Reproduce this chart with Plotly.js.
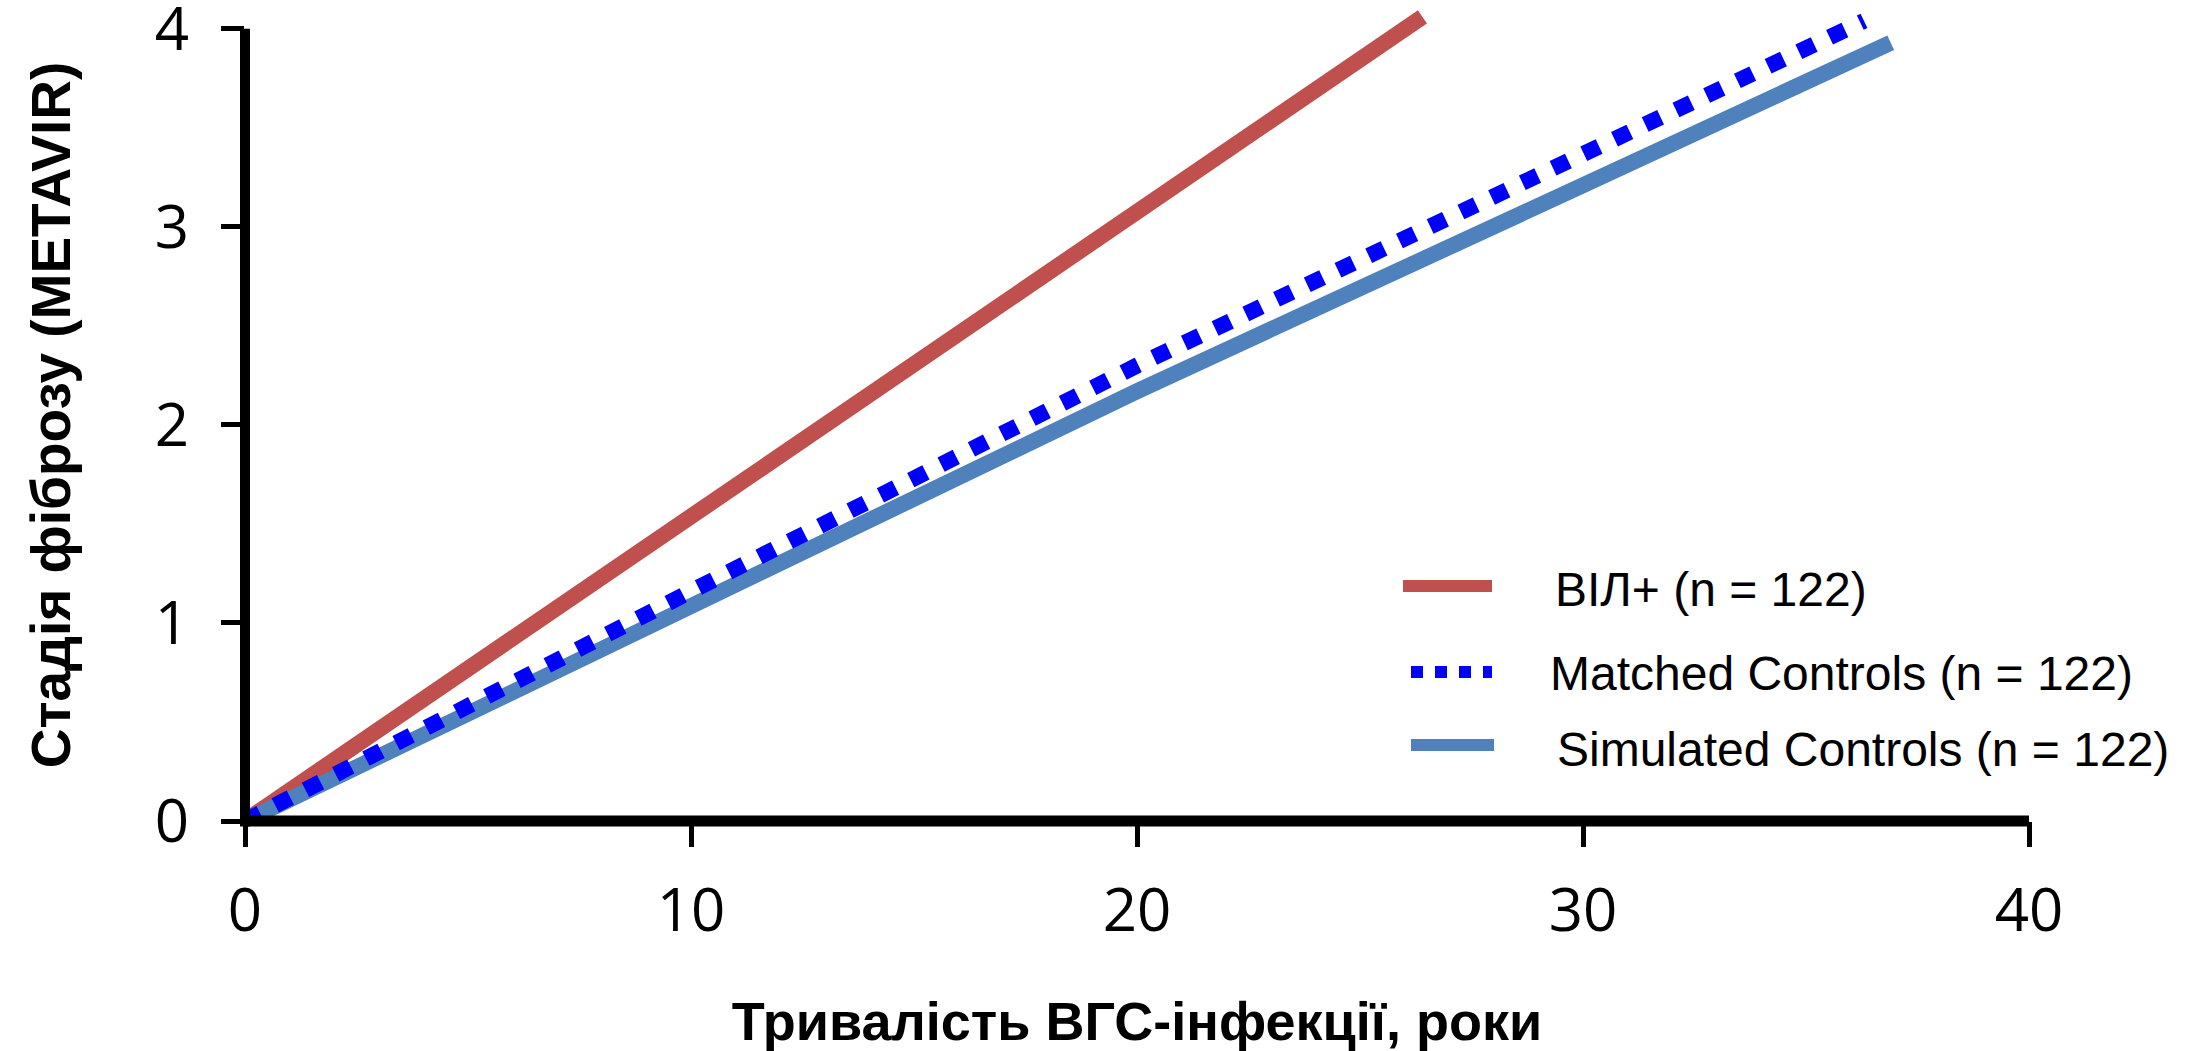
<!DOCTYPE html>
<html>
<head>
<meta charset="utf-8">
<script src="https://cdn.plot.ly/plotly-3.0.1.min.js"></script>
<style>
  html, body { margin: 0; padding: 0; background: #ffffff; }
  #chart { width: 2190px; height: 1051px; }
</style>
</head>
<body>
<div id="chart"></div>
<script>
// ---- data ----
const seriesNames = ['ВІЛ+ (n = 122)', 'Matched Controls (n = 122)', 'Simulated Controls (n = 122)'];
const seriesColors = ['#C0504D', '#0000FF', '#4F81BD'];

const yearsHIV = [0, 5, 10, 15, 20, 26.4];
const stageHIV = [0, 0.77, 1.55, 2.32, 3.09, 4.06];

const yearsMatched = [0, 5, 10, 20, 30, 36.3];
const stageMatched = [0, 0.59, 1.16, 2.30, 3.38, 4.04];

const yearsSimulated = [0, 5, 10, 20, 30, 36.9];
const stageSimulated = [0, 0.54, 1.08, 2.17, 3.21, 3.93];

const xTicks = [0, 10, 20, 30, 40];
const yTicks = [0, 1, 2, 3, 4];

const xTitle = 'Тривалість ВГС-інфекції, роки';
const yTitle = 'Стадія фіброзу (METAVIR)';

// ---- layout geometry (pixels) ----
const W = 2190, H = 1051;
const plotL = 245, plotR = 2029, plotB = 821;
const yMax = 4.1;
const unitY = 198;
const plotT = plotB - yMax * unitY;
const pw = plotR - plotL, ph = plotB - plotT;
const px = v => (v - plotL) / pw;
const py = v => (plotB - v) / ph;

const traces = [
  { x: yearsHIV, y: stageHIV, name: seriesNames[0], mode: 'lines',
    line: { color: seriesColors[0], width: 16 } },
  { x: yearsSimulated, y: stageSimulated, name: seriesNames[2], mode: 'lines',
    line: { color: seriesColors[2], width: 16 } },
  { x: yearsMatched, y: stageMatched, name: seriesNames[1], mode: 'lines',
    line: { color: seriesColors[1], width: 16, dash: '17px,17px' } }
];

// legend drawn by hand (swatch + text)
const legendRows = [
  { name: seriesNames[0], color: seriesColors[0], dash: 'solid', x0: 1403, x1: 1492, y: 586, tx: 1553, ty: 590 },
  { name: seriesNames[1], color: seriesColors[1], dash: '12px,12px', x0: 1411, x1: 1492, y: 672, tx: 1548, ty: 674 },
  { name: seriesNames[2], color: seriesColors[2], dash: 'solid', x0: 1411, x1: 1494, y: 745, tx: 1555, ty: 750 }
];

const shapes = [
  // axis lines
  { type: 'line', xref: 'paper', yref: 'paper', x0: 0, x1: 1, y0: 0, y1: 0,
    line: { color: '#000', width: 11 }, layer: 'above' },
  { type: 'line', xref: 'paper', yref: 'paper', x0: 0, x1: 0, y0: py(plotB + 5.5), y1: 4 / yMax,
    line: { color: '#000', width: 10 }, layer: 'above' }
];
const annotations = [];
legendRows.forEach(r => {
  shapes.push({ type: 'line', xref: 'paper', yref: 'paper', x0: px(r.x0), x1: px(r.x1), y0: py(r.y), y1: py(r.y),
    line: { color: r.color, width: 12, dash: r.dash } });
  annotations.push({ xref: 'paper', yref: 'paper', x: px(r.tx), y: py(r.ty), xanchor: 'left', yanchor: 'middle',
    text: r.name, showarrow: false, font: { family: 'Liberation Sans, Arial, sans-serif', size: 48, color: '#000' } });
});

const layout = {
  width: W, height: H,
  margin: { l: plotL, r: W - plotR, t: plotT, b: H - plotB, pad: 0 },
  paper_bgcolor: '#ffffff', plot_bgcolor: '#ffffff',
  showlegend: false,
  xaxis: {
    range: [0, 40], tickvals: xTicks, ticktext: xTicks.map(String),
    showgrid: false, zeroline: false, showline: false,
    ticks: 'outside', ticklen: 25, tickwidth: 5, tickcolor: '#000',
    ticklabelstandoff: 12, ticklabeloverflow: 'allow',
    tickfont: { family: 'Open Sans, sans-serif', size: 60, color: '#000' },
    title: { text: xTitle, standoff: 70,
      font: { family: 'Liberation Sans, Arial, sans-serif', size: 54, color: '#000', weight: 'bold' } },
    automargin: false
  },
  yaxis: {
    range: [0, yMax], tickvals: yTicks, ticktext: yTicks.map(String),
    showgrid: false, zeroline: false, showline: false,
    ticks: 'outside', ticklen: 23, tickwidth: 5, tickcolor: '#000',
    ticklabelstandoff: 20, ticklabeloverflow: 'allow',
    tickfont: { family: 'Open Sans, sans-serif', size: 60, color: '#000' },
    title: { text: yTitle, standoff: 66,
      font: { family: 'Liberation Sans, Arial, sans-serif', size: 55, color: '#000', weight: 'bold' } },
    automargin: false
  },
  shapes: shapes,
  annotations: annotations
};

Plotly.newPlot('chart', traces, layout, { staticPlot: true, displayModeBar: false });
</script>
</body>
</html>
